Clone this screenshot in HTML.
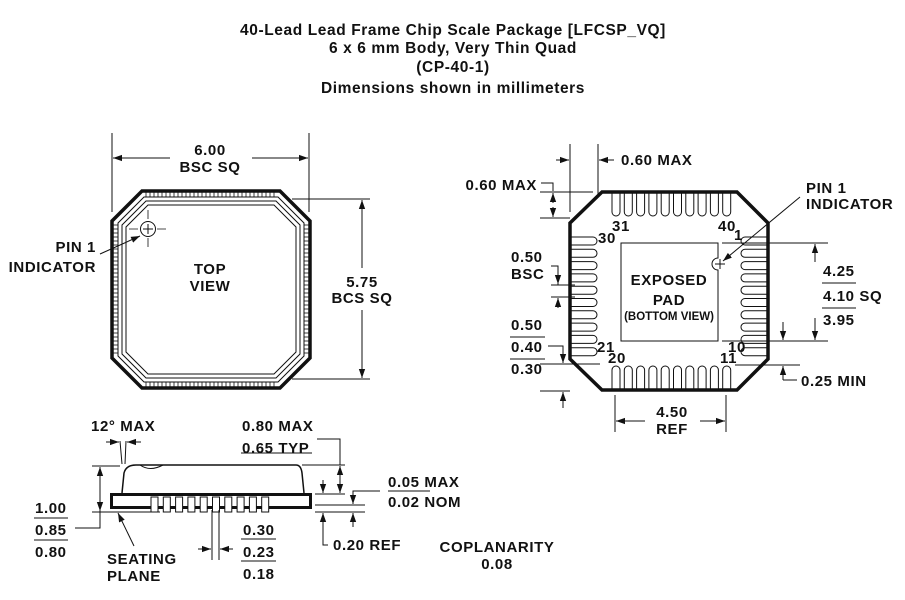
<!DOCTYPE html>
<html><head><meta charset="utf-8"><style>
html,body{margin:0;padding:0;background:#fff}
svg{display:block}
text{font-family:"Liberation Sans",Arial,sans-serif;font-size:15px;font-weight:bold;fill:#111;letter-spacing:0.6px}
.t{font-size:15.5px}
.s{font-size:11.5px;letter-spacing:0}
</style></head><body>
<svg id="s" width="905" height="600" viewBox="0 0 905 600" xmlns="http://www.w3.org/2000/svg">
<defs><marker id="a" viewBox="0 0 10 10" refX="10" refY="5" markerWidth="9" markerHeight="9" markerUnits="userSpaceOnUse" orient="auto"><path d="M0,1.5 L10,5 L0,8.5 z" fill="#111"/></marker></defs>
<g text-anchor="middle">
<text x="453" y="35" class="t">40-Lead Lead Frame Chip Scale Package [LFCSP_VQ]</text>
<text x="453" y="53" class="t">6 x 6 mm Body, Very Thin Quad</text>
<text x="453" y="72" class="t">(CP-40-1)</text>
<text x="453" y="93" class="t">Dimensions shown in millimeters</text>
</g>
<g fill="none" stroke="#111">
<!-- top view -->
<path d="M142,191 L280,191 L310,221 L310,358 L280,388 L142,388 L112,358 L112,221 Z" stroke-width="3.5"/>
<path d="M144,197 L278,197 L304,223 L304,356 L278,382 L144,382 L118,356 L118,223 Z" stroke-width="1"/>
<path d="M146,201 L276,201 L300,225 L300,354 L276,378 L146,378 L122,354 L122,225 Z" stroke-width="1"/>
<path d="M148,205 L274,205 L296,227 L296,352 L274,374 L148,374 L126,352 L126,227 Z" stroke-width="1"/>
<g id="ticks" stroke-width="0.8"></g>
<circle cx="148" cy="229" r="7.5" stroke-width="1"/>
<path d="M148,210 V248 M129,229 H168" stroke-width="0.8" stroke-dasharray="9,5"/>
<path d="M148,224 V234 M143,229 H153" stroke-width="1"/>
<path d="M100,254 L140,236" stroke-width="1" marker-end="url(#a)"/>
<!-- 6.00 -->
<path d="M112,133 V212 M309,133 V212" stroke-width="1"/>
<path d="M170,158 H113" marker-end="url(#a)" stroke-width="1"/>
<path d="M252,158 H308" marker-end="url(#a)" stroke-width="1"/>
<!-- 5.75 -->
<path d="M292,199 H370 M292,379 H370" stroke-width="1"/>
<path d="M362,268 V200" marker-end="url(#a)" stroke-width="1"/>
<path d="M362,310 V378" marker-end="url(#a)" stroke-width="1"/>

<!-- bottom view -->
<path d="M602,192 L737,192 L768,223 L768,359 L737,390 L602,390 L570,359 L570,223 Z" stroke-width="3.5"/>
<g id="pads" stroke-width="1"></g>
<path d="M621,243 H718 V258 A6,6 0 0 0 718,270 V341 H621 Z" stroke-width="1"/>
<path d="M715,264 H725 M720,259 V269" stroke-width="1"/>
<path d="M800,197 L723,261" stroke-width="1" marker-end="url(#a)"/>
<!-- 0.60 MAX top -->
<path d="M570,144 V212 M598,144 V195" stroke-width="1"/>
<path d="M556,160 H569" marker-end="url(#a)" stroke-width="1"/>
<path d="M614,160 H599" marker-end="url(#a)" stroke-width="1"/>
<!-- 0.60 MAX left -->
<path d="M541,183 H553 V191 M540,192 H593 M540,218 H570" stroke-width="1"/>
<path d="M553,203 V193" marker-end="url(#a)" stroke-width="1"/>
<path d="M553,207 V217" marker-end="url(#a)" stroke-width="1"/>
<!-- 0.50 BSC -->
<path d="M551,266 H558 V285 M551,285 H575 M551,297 H575" stroke-width="1"/>
<path d="M558,272 V284" marker-end="url(#a)" stroke-width="1"/>
<path d="M558,308 V298" marker-end="url(#a)" stroke-width="1"/>
<!-- 0.40 -->
<path d="M548,346 H563 V363 M540,364 H600 M540,391 H570" stroke-width="1"/>
<path d="M563,352 V363" marker-end="url(#a)" stroke-width="1"/>
<path d="M563,408 V392" marker-end="url(#a)" stroke-width="1"/>
<!-- right 4.10 -->
<path d="M722,243 H828 M722,341 H828" stroke-width="1"/>
<path d="M815,262 V244" marker-end="url(#a)" stroke-width="1"/>
<path d="M815,318 V340" marker-end="url(#a)" stroke-width="1"/>
<!-- 0.25 MIN -->
<path d="M735,365 H800" stroke-width="1"/>
<path d="M783,322 V340" marker-end="url(#a)" stroke-width="1"/>
<path d="M783,380 V366" marker-end="url(#a)" stroke-width="1"/>
<path d="M783,380 H797" stroke-width="1"/>
<!-- 4.50 REF -->
<path d="M615,395 V432 M726,395 V432" stroke-width="1"/>
<path d="M645,421 H616" marker-end="url(#a)" stroke-width="1"/>
<path d="M700,421 H725" marker-end="url(#a)" stroke-width="1"/>

<!-- side view -->
<path d="M122,493 L124,473 Q126,465 136,465 L296,465 Q301,465 302,473 L304,493" stroke-width="1.5"/>
<path d="M140,465 Q150,472 163,465" stroke-width="1"/>
<rect x="111.5" y="494.5" width="199" height="13" stroke-width="3"/>
<g id="leads" stroke-width="1"></g>
<path d="M92,466 H120 M92,512 H160" stroke-width="1"/>
<path d="M100,478 V467" marker-end="url(#a)" stroke-width="1"/>
<path d="M100,500 V511" marker-end="url(#a)" stroke-width="1"/>
<path d="M100,478 V528 H75" stroke-width="1"/>
<path d="M120,441 L122,464 M126,441 L125,464" stroke-width="1"/>
<path d="M106,442 H119" marker-end="url(#a)" stroke-width="1"/>
<path d="M141,442 H127" marker-end="url(#a)" stroke-width="1"/>
<path d="M134,546 L118,513" marker-end="url(#a)" stroke-width="1"/>
<path d="M302,465 H345 M317,439 H340 V465 M315,494 H345 M315,505 H365 M315,512 H365" stroke-width="1"/>
<path d="M340,480 V466" marker-end="url(#a)" stroke-width="1"/>
<path d="M340,480 V493" marker-end="url(#a)" stroke-width="1"/>
<path d="M323,480 V493" marker-end="url(#a)" stroke-width="1"/>
<path d="M323,526 V513" marker-end="url(#a)" stroke-width="1"/>
<path d="M323,526 V545 H328" stroke-width="1"/>
<path d="M353,492 V504" marker-end="url(#a)" stroke-width="1"/>
<path d="M353,527 V513" marker-end="url(#a)" stroke-width="1"/>
<path d="M353,492 V491 H380" stroke-width="1"/>
<path d="M212,510 V560 M219,510 V560" stroke-width="1"/>
<path d="M198,549 H211" marker-end="url(#a)" stroke-width="1"/>
<path d="M233,549 H220" marker-end="url(#a)" stroke-width="1"/>
<!-- fraction bars -->
<path d="M34,518 H68 M34,540 H68 M241,453 H312 M241,539 H276 M241,561 H276 M388,491 H430 M510,337 H545 M510,359 H545 M822,283 H856 M822,308 H856" stroke-width="1"/>
</g>
<g text-anchor="middle">
<text x="210" y="155">6.00</text><text x="210" y="172">BSC SQ</text>
<text x="210" y="274">TOP</text><text x="210" y="291">VIEW</text>
<text x="362" y="287">5.75</text><text x="362" y="303">BCS SQ</text>
<text x="669" y="285">EXPOSED</text><text x="669" y="305">PAD</text>
<text x="669" y="320" class="s">(BOTTOM VIEW)</text>
<text x="672" y="417">4.50</text><text x="672" y="434">REF</text>
<text x="497" y="552">COPLANARITY</text><text x="497" y="569">0.08</text>
</g>
<g text-anchor="end">
<text x="96" y="252">PIN 1</text><text x="96" y="272">INDICATOR</text>
<text x="537" y="190">0.60 MAX</text>
</g>
<text x="621" y="165">0.60 MAX</text>
<text x="806" y="193">PIN 1</text><text x="806" y="209">INDICATOR</text>
<text x="511" y="262">0.50</text><text x="511" y="279">BSC</text>
<text x="511" y="330">0.50</text><text x="511" y="352">0.40</text><text x="511" y="374">0.30</text>
<text x="823" y="276">4.25</text><text x="823" y="301">4.10 SQ</text><text x="823" y="325">3.95</text>
<text x="801" y="386">0.25 MIN</text>
<g class="s"><text x="612" y="231">31</text><text x="718" y="231">40</text><text x="734" y="240">1</text>
<text x="598" y="243">30</text><text x="597" y="352">21</text><text x="728" y="352">10</text>
<text x="608" y="363">20</text><text x="720" y="363">11</text></g>
<text x="91" y="431">12° MAX</text>
<text x="242" y="431">0.80 MAX</text><text x="242" y="453">0.65 TYP</text>
<text x="388" y="487">0.05 MAX</text><text x="388" y="507">0.02 NOM</text>
<text x="333" y="550">0.20 REF</text>
<text x="35" y="513">1.00</text><text x="35" y="535">0.85</text><text x="35" y="557">0.80</text>
<text x="243" y="535">0.30</text><text x="243" y="557">0.23</text><text x="243" y="579">0.18</text>
<text x="107" y="564">SEATING</text><text x="107" y="581">PLANE</text>
</svg>
<script>
var NS="http://www.w3.org/2000/svg";
function el(p,t,a){var e=document.createElementNS(NS,t);for(var k in a)e.setAttribute(k,a[k]);document.getElementById(p).appendChild(e);}
for(var x=146;x<=276;x+=4){el("ticks","line",{x1:x,y1:192,x2:x,y2:197});el("ticks","line",{x1:x,y1:382,x2:x,y2:387});}
for(var y=225;y<=355;y+=4){el("ticks","line",{x1:113,y1:y,x2:118,y2:y});el("ticks","line",{x1:304,y1:y,x2:309,y2:y});}
var p=12.3;
for(var i=0;i<10;i++){
 var cx=612+i*p+4;
 el("pads","path",{d:"M"+(cx-4)+",193 V212 A4,4 0 0 0 "+(cx+4)+",212 V193"});
 el("pads","path",{d:"M"+(cx-4)+",389 V370 A4,4 0 0 1 "+(cx+4)+",370 V389"});
 var cy=237+i*p+4;
 el("pads","path",{d:"M571,"+(cy-4)+" H593 A4,4 0 0 1 593,"+(cy+4)+" H571"});
 el("pads","path",{d:"M767,"+(cy-4)+" H745 A4,4 0 0 0 745,"+(cy+4)+" H767"});
}
for(var i=0;i<10;i++){var x=151+i*12.3;el("leads","rect",{x:x,y:497,width:7,height:15,fill:"#fff"});}
</script>
</body></html>
